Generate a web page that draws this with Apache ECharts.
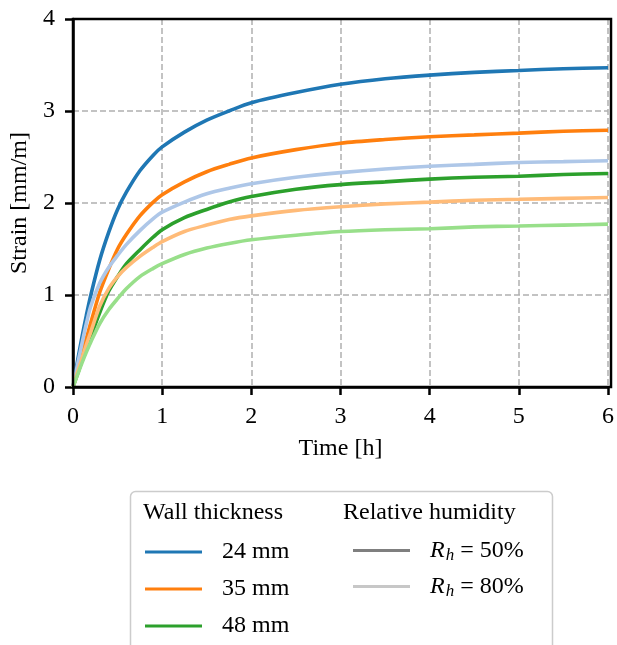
<!DOCTYPE html>
<html>
<head>
<meta charset="utf-8">
<script src="https://cdn.jsdelivr.net/npm/echarts@6/dist/echarts.min.js"></script>
<style>html,body{margin:0;padding:0;background:#fff}#c{width:617px;height:645px}</style>
</head>
<body>
<div id="c"></div>
<script>
// Time points (h)
const times = [0, 0.05, 0.1, 0.15, 0.2, 0.3, 0.4, 0.5, 0.6, 0.75, 0.9, 1, 1.25, 1.5, 1.75, 2, 2.5, 3, 3.5, 4, 4.5, 5, 5.5, 6];
// Strain [mm/m], RH = 50%
const wall24_rh50 = [0, 0.28, 0.54, 0.78, 1.00, 1.38, 1.68, 1.93, 2.12, 2.35, 2.52, 2.61, 2.77, 2.90, 3.00, 3.09, 3.20, 3.29, 3.35, 3.39, 3.42, 3.44, 3.46, 3.47];
const wall35_rh50 = [0, 0.18, 0.36, 0.53, 0.70, 1.03, 1.28, 1.50, 1.66, 1.86, 2.01, 2.09, 2.23, 2.34, 2.42, 2.49, 2.58, 2.65, 2.69, 2.72, 2.74, 2.76, 2.78, 2.79];
const wall48_rh50 = [0, 0.14, 0.28, 0.41, 0.55, 0.81, 1.04, 1.20, 1.34, 1.49, 1.63, 1.71, 1.84, 1.93, 2.01, 2.07, 2.15, 2.20, 2.23, 2.26, 2.28, 2.29, 2.31, 2.32];
// Strain [mm/m], RH = 80%
const wall24_rh80 = [0, 0.24, 0.47, 0.69, 0.88, 1.13, 1.30, 1.43, 1.55, 1.70, 1.83, 1.90, 2.01, 2.10, 2.16, 2.21, 2.28, 2.33, 2.37, 2.40, 2.42, 2.44, 2.45, 2.46];
const wall35_rh80 = [0, 0.16, 0.31, 0.46, 0.60, 0.88, 1.07, 1.20, 1.30, 1.42, 1.52, 1.58, 1.69, 1.76, 1.82, 1.86, 1.92, 1.96, 1.99, 2.01, 2.03, 2.04, 2.05, 2.06];
const wall48_rh80 = [0, 0.13, 0.26, 0.38, 0.49, 0.69, 0.84, 0.96, 1.07, 1.20, 1.29, 1.34, 1.44, 1.51, 1.56, 1.60, 1.65, 1.69, 1.71, 1.72, 1.74, 1.75, 1.76, 1.77];

const xTicks = [0, 1, 2, 3, 4, 5, 6];
const yTicks = [0, 1, 2, 3, 4];
const wallLabels = ['24 mm', '35 mm', '48 mm'];
const rhLabels = ['R_h = 50%', 'R_h = 80%'];

const FONT = 'Liberation Serif';
const FS = 24;
const W = 617, H = 645;
const G = {left:73, right:6, top:19, bottom:258};

function pairs(arr){ return times.map((t,i)=>[t, arr[i]]); }
function lineSeries(name, data, color, z){
  return {name, type:'line', data:pairs(data), showSymbol:false, smooth:0.3,
    lineStyle:{color, width:3.6}, itemStyle:{color}, z, silent:true};
}
const dummy = (name,color)=>({name, type:'line', data:[], lineStyle:{color,width:3}, itemStyle:{color}});

const chart = echarts.init(document.getElementById('c'), null, {renderer:'canvas'});
const gridStyle = {show:true, lineStyle:{color:'#b0b0b0', width:1.5, type:[6,3]}};
const legendText = {fontFamily:FONT, fontSize:FS, color:'#000', padding:[0,0,0,15], lineHeight:22};
chart.setOption({
  animation:false,
  textStyle:{fontFamily:FONT},
  grid:{left:G.left, right:G.right, top:G.top, bottom:G.bottom, show:false},
  xAxis:{type:'value', min:xTicks[0], max:xTicks[xTicks.length-1], interval:1,
    name:'Time [h]', nameLocation:'middle', nameGap:50,
    nameTextStyle:{fontFamily:FONT, fontSize:FS, color:'#000'},
    axisLine:{show:true, lineStyle:{color:'#000', width:2.5}},
    axisTick:{show:true, length:8, lineStyle:{color:'#000', width:2.5}},
    axisLabel:{fontFamily:FONT, fontSize:FS, color:'#000', margin:18},
    splitLine:gridStyle},
  yAxis:{type:'value', min:yTicks[0], max:yTicks[yTicks.length-1], interval:1,
    name:'Strain [mm/m]', nameLocation:'middle', nameGap:40,
    nameTextStyle:{fontFamily:FONT, fontSize:FS, color:'#000'},
    axisLine:{show:true, lineStyle:{color:'#000', width:2.5}},
    axisTick:{show:true, length:8, lineStyle:{color:'#000', width:2.5}},
    axisLabel:{fontFamily:FONT, fontSize:FS, color:'#000', margin:18},
    splitLine:gridStyle},
  legend:[
    {orient:'vertical', left:140, top:535, width:190, height:140, itemWidth:57, itemHeight:3, icon:'rect', itemGap:13,
     data:wallLabels, selectedMode:false, textStyle:legendText},
    {orient:'vertical', left:348, top:532, width:200, height:140, itemWidth:57, itemHeight:3, icon:'rect', itemGap:9,
     data:rhLabels, selectedMode:false,
     formatter:(n)=> '{i|R}{s|h}{t| = ' + n.split('= ')[1] + '}',
     textStyle:Object.assign({}, legendText, {
       rich:{i:{fontFamily:FONT, fontSize:FS, fontStyle:'italic', color:'#000', lineHeight:22},
             s:{fontFamily:FONT, fontSize:17, fontStyle:'italic', color:'#000', padding:[10,0,0,1], lineHeight:22},
             t:{fontFamily:FONT, fontSize:FS, color:'#000', lineHeight:22}}})}
  ],
  graphic:[
    {type:'rect', shape:{x:G.left, y:G.top, width:W-G.left-G.right, height:H-G.top-G.bottom},
     style:{fill:'none', stroke:'#000', lineWidth:2.5}, z:100, silent:true},
    {type:'rect', shape:{x:130.5, y:491.5, width:422, height:170, r:5}, style:{fill:'#fff', stroke:'#cccccc', lineWidth:1.5}, z:-1},
    {type:'text', x:143, y:513, style:{text:'Wall thickness', font:FS+'px "'+FONT+'"', fill:'#000', textVerticalAlign:'middle'}},
    {type:'text', x:343, y:513, style:{text:'Relative humidity', font:FS+'px "'+FONT+'"', fill:'#000', textVerticalAlign:'middle'}}
  ],
  series:[
    lineSeries('24 mm, 50%', wall24_rh50, '#1f77b4', 2),
    lineSeries('35 mm, 50%', wall35_rh50, '#ff7f0e', 2),
    lineSeries('48 mm, 50%', wall48_rh50, '#2ca02c', 2),
    lineSeries('24 mm, 80%', wall24_rh80, '#aec7e8', 3),
    lineSeries('35 mm, 80%', wall35_rh80, '#ffbb78', 3),
    lineSeries('48 mm, 80%', wall48_rh80, '#98df8a', 3),
    dummy(wallLabels[0], '#1f77b4'),
    dummy(wallLabels[1], '#ff7f0e'),
    dummy(wallLabels[2], '#2ca02c'),
    dummy(rhLabels[0], '#7f7f7f'),
    dummy(rhLabels[1], '#c7c7c7')
  ]
});
</script>
</body>
</html>
